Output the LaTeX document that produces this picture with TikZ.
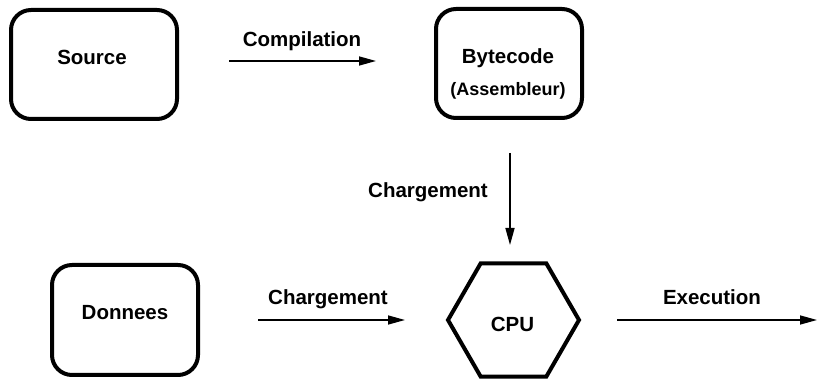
\documentclass[tikz,border=0pt]{standalone}
\usepackage{fontspec}
\setmainfont{Liberation Sans}
\usetikzlibrary{shapes.geometric,arrows.meta}
\begin{document}
\begin{tikzpicture}[x=1pt,y=-1pt,
  box/.style={draw,line width=4pt,rounded corners=20pt,inner sep=0pt},
  hexa/.style={draw,line width=4pt,regular polygon,regular polygon sides=6,minimum size=131pt,inner sep=0pt},
  txt/.style={anchor=base,inner sep=0pt,font=\bfseries\fontsize{20.5}{24}\selectfont},
  small/.style={anchor=base,inner sep=0pt,font=\bfseries\fontsize{18}{22}\selectfont},
  flow/.style={line width=1.5pt,-{Triangle[length=17pt,width=9pt]}}]
\useasboundingbox (0,0) rectangle (817,379);
% boxes
\node[box,minimum width=166pt,minimum height=109pt] (source) at (94,64.5) {};
\node[box,minimum width=146pt,minimum height=109pt] (bytecode) at (509,63.5) {};
\node[box,minimum width=146pt,minimum height=110pt] (donnees) at (125,320) {};
\node[hexa] (cpu) at (513.5,320) {};
% texts
\node[txt] (tsource) at (92,65) {Source};
\node[txt] (tbyte) at (508,64) {Bytecode};
\node[small] (tasm) at (508,96) {(Assembleur)};
\node[txt] (tdon) at (125,320) {Donnees};
\node[txt] (tcpu) at (512.5,332) {CPU};
% arrow end points
\coordinate (c1a) at (229,61);
\coordinate (c1b) at (376,61);
\coordinate (c2a) at (510,153);
\coordinate (c2b) at (510,245);
\coordinate (c3a) at (258,320);
\coordinate (c3b) at (405,320);
\coordinate (c4a) at (617,320);
\coordinate (c4b) at (817,320);
\draw[flow] (c1a) -- (c1b);
\draw[flow] (c2a) -- (c2b);
\draw[flow] (c3a) -- (c3b);
\draw[flow] (c4a) -- (c4b);
% labels
\node[txt] (lcomp) at (302,47) {Compilation};
\node[txt] (lch1) at (428,198) {Chargement};
\node[txt] (lch2) at (328,305) {Chargement};
\node[txt] (lexe) at (712,305) {Execution};
\end{tikzpicture}
\end{document}
